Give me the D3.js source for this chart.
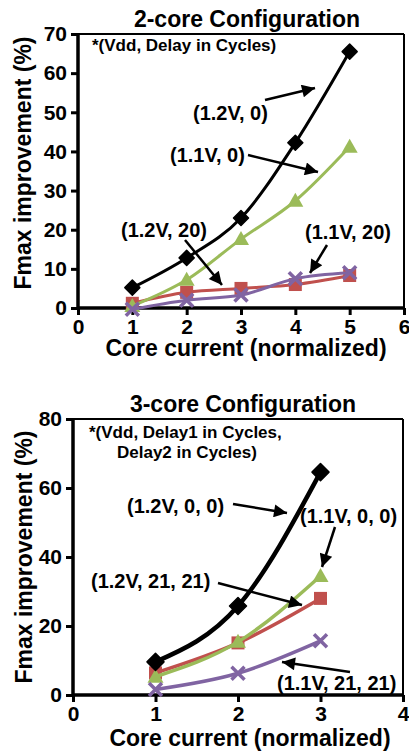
<!DOCTYPE html>
<html><head><meta charset="utf-8">
<script src="https://cdn.jsdelivr.net/npm/d3@7"></script>
<style>
html,body{margin:0;padding:0;background:#fff;}
svg{display:block;}
text{font-family:"Liberation Sans",Arial,sans-serif;font-weight:bold;fill:#000;}
</style></head>
<body>
<svg id="chart" width="409" height="754"></svg>
<script>
// ---- Data: 2-core configuration ----
const xTop = [1, 2, 3, 4, 5];
const top_12V_0  = [5.2, 12.8, 23.0, 42.2, 65.5];
const top_11V_0  = [0.5, 7.2, 17.6, 27.4, 41.2];
const top_12V_20 = [1.2, 4.0, 5.0, 6.0, 8.3];
const top_11V_20 = [-0.3, 2.0, 3.3, 7.5, 9.0];
const topXTicks = [0, 1, 2, 3, 4, 5, 6];
const topYTicks = [0, 10, 20, 30, 40, 50, 60, 70];

// ---- Data: 3-core configuration ----
const xBot = [1, 2, 3];
const bot_12V_0_0   = [9.6, 25.8, 64.6];
const bot_11V_0_0   = [5.3, 15.4, 34.5];
const bot_12V_21_21 = [6.4, 15.1, 28.0];
const bot_11V_21_21 = [1.6, 6.3, 15.7];
const botXTicks = [0, 1, 2, 3, 4];
const botYTicks = [0, 20, 40, 60, 80];

const colors = {black:"#000000", green:"#9bbb59", red:"#c0504d", purple:"#8064a2"};

const svg = d3.select("#chart");
const defs = svg.append("defs");
defs.append("marker").attr("id","ah").attr("viewBox","0 0 10 10")
  .attr("refX",10).attr("refY",5).attr("markerUnits","userSpaceOnUse")
  .attr("markerWidth",17).attr("markerHeight",13).attr("orient","auto")
  .append("path").attr("d","M0,0 L10,5 L0,10 Z").attr("fill","#000");

function panel(cfg){
  const g = svg.append("g");
  const x = d3.scaleLinear().domain(cfg.xDomain).range(cfg.xRange);
  const y = d3.scaleLinear().domain(cfg.yDomain).range(cfg.yRange);
  // frame (thin top/right)
  g.append("line").attr("x1",x.range()[0]).attr("x2",x.range()[1]).attr("y1",y.range()[1]).attr("y2",y.range()[1]).attr("stroke","#000").attr("stroke-width",2);
  g.append("line").attr("x1",x.range()[1]).attr("x2",x.range()[1]).attr("y1",y.range()[0]).attr("y2",y.range()[1]).attr("stroke","#000").attr("stroke-width",2);
  // axes
  const xa = g.append("g").attr("transform",`translate(0,${y.range()[0]})`)
    .call(d3.axisBottom(x).tickValues(cfg.xTicks).tickFormat(d3.format("d")).tickSize(7).tickPadding(4));
  const ya = g.append("g").attr("transform",`translate(${x.range()[0]},0)`)
    .call(d3.axisLeft(y).tickValues(cfg.yTicks).tickFormat(d3.format("d")).tickSize(7).tickPadding(4));
  [xa,ya].forEach(a=>{
    a.select(".domain").attr("stroke","#000").attr("stroke-width",3.5);
    a.selectAll(".tick line").attr("stroke","#000").attr("stroke-width",3);
    a.selectAll(".tick text").style("font-size","21px").style("font-family","'Liberation Sans',Arial,sans-serif").style("font-weight","bold").attr("fill","#000");
  });
  xa.select(".domain").attr("d",`M${x.range()[0]},0H${x.range()[1]}`);
  ya.select(".domain").attr("d",`M0,${y.range()[0]}V${y.range()[1]}`);
  // series
  const line = d3.line().x(d=>x(d[0])).y(d=>y(d[1])).curve(d3.curveMonotoneX);
  cfg.series.forEach(s=>{
    const pts = cfg.xs.map((v,i)=>[v,s.values[i]]);
    g.append("path").datum(pts).attr("d",line).attr("fill","none")
      .attr("stroke",s.color).attr("stroke-width",s.width||3);
    const m = g.append("g");
    pts.forEach(p=>{
      const px=x(p[0]), py=y(p[1]);
      if(s.marker==="diamond"){
        const r=cfg.dsize||8;
        m.append("path").attr("d",`M${px},${py-r}L${px+r},${py}L${px},${py+r}L${px-r},${py}Z`).attr("fill",s.color).attr("stroke",s.color).attr("stroke-linejoin","round").attr("stroke-width",1.5);
      } else if(s.marker==="square"){
        const r=6.5;
        m.append("rect").attr("x",px-r).attr("y",py-r).attr("width",2*r).attr("height",2*r).attr("fill",s.color);
      } else if(s.marker==="triangle"){
        const r=8;
        m.append("path").attr("d",`M${px},${py-r}L${px+r},${py+r*0.75}L${px-r},${py+r*0.75}Z`).attr("fill",s.color);
      } else if(s.marker==="x"){
        const r=6.5;
        m.append("path").attr("d",`M${px-r},${py-r}L${px+r},${py+r}M${px+r},${py-r}L${px-r},${py+r}`).attr("stroke",s.color).attr("stroke-width",3.5);
      }
    });
  });
  // titles
  g.append("text").attr("x",cfg.title[1]).attr("y",cfg.title[2]).attr("text-anchor","middle").style("font-size","23px").text(cfg.title[0]);
  g.append("text").attr("x",cfg.xlab[0]).attr("y",cfg.xlab[1]).attr("text-anchor","middle").style("font-size","23px").text("Core current (normalized)");
  g.append("text").attr("transform",`translate(${cfg.ylab[0]},${cfg.ylab[1]}) rotate(-90)`).attr("text-anchor","middle").style("font-size","23px").text("Fmax improvement (%)");
  cfg.notes.forEach(n=>{
    g.append("text").attr("x",n[1]).attr("y",n[2]).style("font-size","17px").text(n[0]);
  });
  cfg.labels.forEach(l=>{
    g.append("text").attr("x",l[1]).attr("y",l[2]).style("font-size","20px").text(l[0]);
  });
  cfg.arrows.forEach(a=>{
    g.append("line").attr("x1",a[0]).attr("y1",a[1]).attr("x2",a[2]).attr("y2",a[3])
      .attr("stroke","#000").attr("stroke-width",2.5).attr("marker-end","url(#ah)");
  });
}

panel({
  xDomain:[0,6], xRange:[78,404], yDomain:[0,70], yRange:[308,34],
  xTicks:topXTicks, yTicks:topYTicks, xs:xTop, dsize:7.5,
  series:[
    {values:top_12V_20, color:colors.red, marker:"square"},
    {values:top_11V_0, color:colors.green, marker:"triangle"},
    {values:top_11V_20, color:colors.purple, marker:"x"},
    {values:top_12V_0, color:colors.black, marker:"diamond"}
  ],
  title:["2-core Configuration",247,27],
  xlab:[246,356], ylab:[31,163],
  notes:[["*(Vdd, Delay in Cycles)",92,51]],
  labels:[["(1.2V, 0)",193,120],["(1.1V, 0)",170,162],["(1.2V, 20)",121,237],["(1.1V, 20)",305,239]],
  arrows:[[265,100,315,88],[248,155,318,172],[185,240,222,285],[327,245,310,273]]
});

panel({
  xDomain:[0,4], xRange:[73,403], yDomain:[0,80], yRange:[695,419],
  xTicks:botXTicks, yTicks:botYTicks, xs:xBot, dsize:8.5,
  series:[
    {values:bot_12V_21_21, color:colors.red, marker:"square", width:3.5},
    {values:bot_11V_0_0, color:colors.green, marker:"triangle", width:3.5},
    {values:bot_11V_21_21, color:colors.purple, marker:"x", width:3.5},
    {values:bot_12V_0_0, color:colors.black, marker:"diamond", width:4.5}
  ],
  title:["3-core Configuration",243,412],
  xlab:[250,746], ylab:[32,557],
  notes:[["*(Vdd, Delay1 in Cycles,",89,438],["Delay2 in Cycles)",117,458]],
  labels:[["(1.2V, 0, 0)",127,513],["(1.1V, 0, 0)",300,523],["(1.2V, 21, 21)",91,588],["(1.1V, 21, 21)",277,690]],
  arrows:[[233,504,287,513],[335,527,322,567],[218,583,302,605],[350,672,282,662]]
});
</script>
</body></html>
